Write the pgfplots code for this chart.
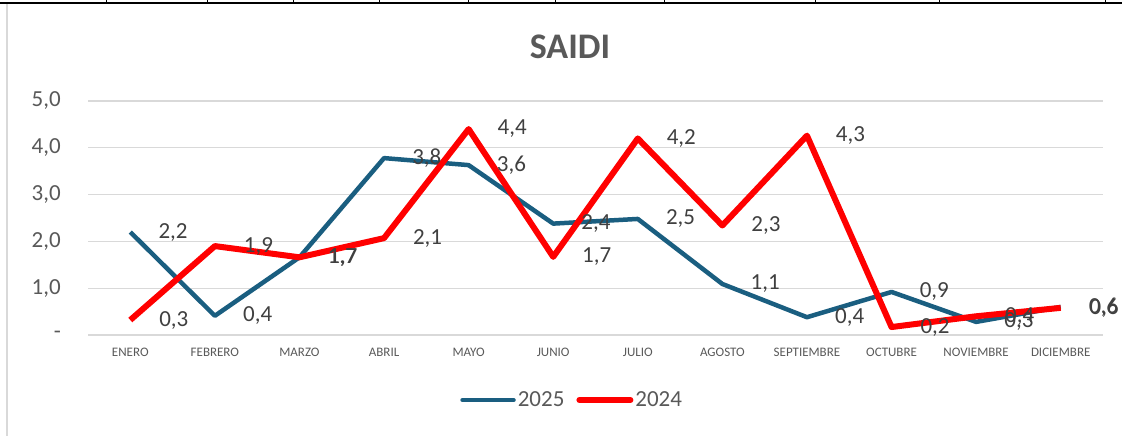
\documentclass[border=0pt]{standalone}
\usepackage{fontspec}
\setmainfont{Carlito}
\usepackage{pgfplots}
\pgfplotsset{compat=1.18}

\definecolor{serieA}{HTML}{1A5E80}
\definecolor{serieB}{HTML}{FF0000}
\definecolor{gridgray}{HTML}{D9D9D9}
\definecolor{txtgray}{HTML}{595959}
\definecolor{lblgray}{HTML}{404040}

% SAIDI mensual (ENERO..DICIEMBRE = 0..11)
\pgfplotstableread{
x y
0 2.20
1 0.41
2 1.66
3 3.78
4 3.63
5 2.38
6 2.48
7 1.09
8 0.38
9 0.92
10 0.28
11 0.60
}\datadosmilveinticinco
\pgfplotstableread{
x y
0 0.32
1 1.90
2 1.66
3 2.07
4 4.40
5 1.67
6 4.20
7 2.34
8 4.26
9 0.17
10 0.40
11 0.58
}\datadosmilveinticuatro

\begin{document}
\begin{tikzpicture}
\useasboundingbox (0,0) rectangle (1122bp,436bp);
% bordes de la hoja
\draw[line width=2bp] (0,433bp) -- (1122bp,433bp);
\foreach \xx in {106,207,293,379,468,555,664,815,939,1105}
  \draw[line width=1bp] (\xx bp,433bp) -- (\xx bp,436bp);
\draw[gridgray, line width=2bp] (7bp,0) -- (7bp,432bp);

\node[font=\fontsize{36bp}{40bp}\selectfont\bfseries, text=txtgray] at (570bp,389bp) {SAIDI};

\begin{axis}[
  at={(88bp,101bp)}, anchor=south west,
  scale only axis,
  width=1015bp, height=234bp,
  xmin=-0.5, xmax=11.5,
  ymin=0, ymax=5,
  clip=false,
  axis line style={draw=none},
  major tick length=0pt,
  ymajorgrids,
  grid style={gridgray, line width=1.3bp},
  xtick={0,...,11},
  xticklabels={ENERO,FEBRERO,MARZO,ABRIL,MAYO,JUNIO,JULIO,AGOSTO,SEPTIEMBRE,OCTUBRE,NOVIEMBRE,DICIEMBRE},
  xticklabel style={font=\fontsize{13bp}{15bp}\selectfont, text=txtgray, inner sep=0pt, yshift=-13bp},
  ytick={0,1,2,3,4,5},
  yticklabels={{-\hspace{12bp}},{1,0},{2,0},{3,0},{4,0},{5,0}},
  yticklabel style={font=\fontsize{23bp}{27bp}\selectfont, text=txtgray, inner sep=0pt, xshift=-27bp},
  /pgf/number format/assume math mode=true,
  /pgf/number format/fixed,
  /pgf/number format/fixed zerofill,
  /pgf/number format/precision=1,
  /pgf/number format/use comma,
  nodes near coords,
  every node near coord/.append style={anchor=west, xshift=26bp, inner sep=0pt,
    font=\fontsize{23bp}{27bp}\selectfont, text=lblgray},
  legend columns=2,
  legend style={at={(0.477,-0.278)}, anchor=center, draw=none, fill=none,
    font=\fontsize{23bp}{27bp}\selectfont, text=txtgray,
    nodes={inner sep=2bp},
    /tikz/every even column/.append style={column sep=10bp}},
  legend image code/.code={\draw[#1, line cap=round] (2.5bp,0bp) -- (53.5bp,0bp);},
]
\addplot[serieA, line width=4.5bp, line join=round] table[x=x, y=y] {\datadosmilveinticinco};
\addlegendentry{2025}
\addplot[serieB, line width=6bp, line join=round] table[x=x, y=y] {\datadosmilveinticuatro};
\addlegendentry{2024}
\end{axis}
\end{tikzpicture}
\end{document}
